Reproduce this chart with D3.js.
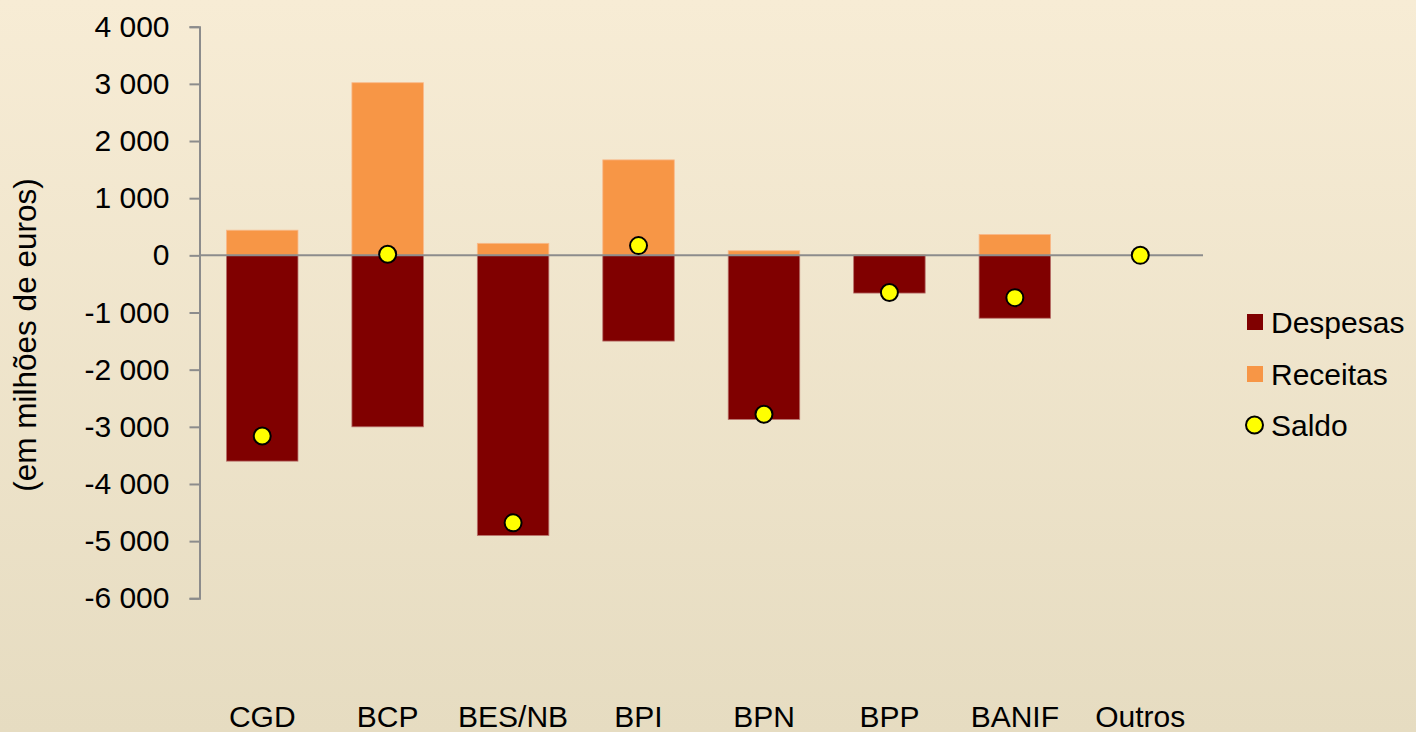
<!DOCTYPE html>
<html lang="pt">
<head>
<meta charset="UTF-8">
<title>Despesas e receitas por banco</title>
<script src="https://d3js.org/d3.v7.min.js"></script>
<style>
  html, body { margin: 0; padding: 0; }
  body { width: 1416px; height: 732px; overflow: hidden; font-family: "Liberation Sans", Arial, sans-serif; }
  .lbl { font-size: 30px; }
</style>
</head>
<body>
<div id="chart"></div>
<script>
const banks = ["CGD", "BCP", "BES/NB", "BPI", "BPN", "BPP", "BANIF", "Outros"];
const despesas = [-3600, -3000, -4900, -1500, -2870, -660, -1100, 0];
const receitas = [440, 3020, 210, 1670, 80, 10, 365, 0];
const saldo = [-3160, 20, -4680, 170, -2780, -650, -740, 0];
const yTicks = [4000, 3000, 2000, 1000, 0, -1000, -2000, -3000, -4000, -5000, -6000];

const width = 1416, height = 732;
const margin = { left: 199.5, right: 213, top: 26.7, bottom: 133.7 };

const locale = d3.formatLocale({ decimal: ",", thousands: " ", grouping: [3], currency: ["", " €"], minus: "-" });
const fmt = locale.format(",d");

const svg = d3.select("#chart").append("svg")
    .attr("width", width)
    .attr("height", height);

// background gradient
const grad = svg.append("defs").append("linearGradient")
    .attr("id", "bg").attr("x1", 0).attr("y1", 0).attr("x2", 0).attr("y2", 1);
grad.append("stop").attr("offset", "0%").attr("stop-color", "#f7ecd5");
grad.append("stop").attr("offset", "100%").attr("stop-color", "#e6dcc1");
svg.append("rect").attr("width", width).attr("height", height).attr("fill", "url(#bg)");

const x = d3.scaleBand()
    .domain(banks)
    .range([margin.left, width - margin.right])
    .paddingInner(0.43)
    .paddingOuter(0.215);

const y = d3.scaleLinear()
    .domain([-6000, 4000])
    .range([height - margin.bottom, margin.top]);

// y axis
const yAxis = svg.append("g")
    .attr("transform", `translate(${margin.left},0)`)
    .call(d3.axisLeft(y).tickValues(yTicks).tickFormat(fmt).tickSize(10).tickPadding(20));
yAxis.select(".domain").attr("stroke", "#8c8c8c").attr("stroke-width", 2);
yAxis.selectAll(".tick line").attr("stroke", "#8c8c8c").attr("stroke-width", 2);
yAxis.selectAll(".tick text")
    .attr("class", "lbl")
    .attr("fill", "#000")
    .style("font-family", "'Liberation Sans', Arial, sans-serif")
    .style("font-size", "30px");

// axis title
svg.append("text")
    .attr("transform", `translate(36,335) rotate(-90)`)
    .attr("text-anchor", "middle")
    .style("font-size", "31.5px")
    .attr("fill", "#000")
    .text("(em milhões de euros)");

// bars
svg.append("g").selectAll("rect")
    .data(banks)
    .join("rect")
    .attr("x", d => x(d))
    .attr("width", x.bandwidth())
    .attr("y", y(0))
    .attr("height", (d, i) => y(despesas[i]) - y(0))
    .attr("fill", "#800000")
    .attr("stroke", "#b8706a")
    .attr("stroke-width", 0.8);

svg.append("g").selectAll("rect")
    .data(banks)
    .join("rect")
    .attr("x", d => x(d))
    .attr("width", x.bandwidth())
    .attr("y", (d, i) => y(receitas[i]))
    .attr("height", (d, i) => y(0) - y(receitas[i]))
    .attr("fill", "#f79646")
    .attr("stroke", "#f9b98a")
    .attr("stroke-width", 0.8);

// zero line
svg.append("line")
    .attr("x1", margin.left)
    .attr("x2", width - margin.right)
    .attr("y1", y(0))
    .attr("y2", y(0))
    .attr("stroke", "#8c8c8c")
    .attr("stroke-width", 2);

// saldo markers
svg.append("g").selectAll("circle")
    .data(banks)
    .join("circle")
    .attr("cx", d => x(d) + x.bandwidth() / 2)
    .attr("cy", (d, i) => y(saldo[i]))
    .attr("r", 8.5)
    .attr("fill", "#ffff00")
    .attr("stroke", "#000")
    .attr("stroke-width", 2);

// category labels
svg.append("g").selectAll("text")
    .data(banks)
    .join("text")
    .attr("class", "lbl")
    .attr("x", d => x(d) + x.bandwidth() / 2)
    .attr("y", 727)
    .attr("text-anchor", "middle")
    .attr("fill", "#000")
    .text(d => d);

// legend
const legend = svg.append("g").attr("transform", "translate(1247,0)");
const items = [
    { name: "Despesas", type: "rect", color: "#800000", y: 322 },
    { name: "Receitas", type: "rect", color: "#f79646", y: 374 },
    { name: "Saldo", type: "circle", color: "#ffff00", y: 425 }
];
items.forEach(it => {
    if (it.type === "rect") {
        legend.append("rect")
            .attr("x", 0).attr("y", it.y - 8)
            .attr("width", 16).attr("height", 16)
            .attr("fill", it.color);
    } else {
        legend.append("circle")
            .attr("cx", 7.5).attr("cy", it.y)
            .attr("r", 8.5)
            .attr("fill", it.color)
            .attr("stroke", "#000")
            .attr("stroke-width", 2);
    }
    legend.append("text")
        .attr("class", "lbl")
        .attr("x", 24)
        .attr("y", it.y + 11)
        .attr("fill", "#000")
        .text(it.name);
});
</script>
</body>
</html>
